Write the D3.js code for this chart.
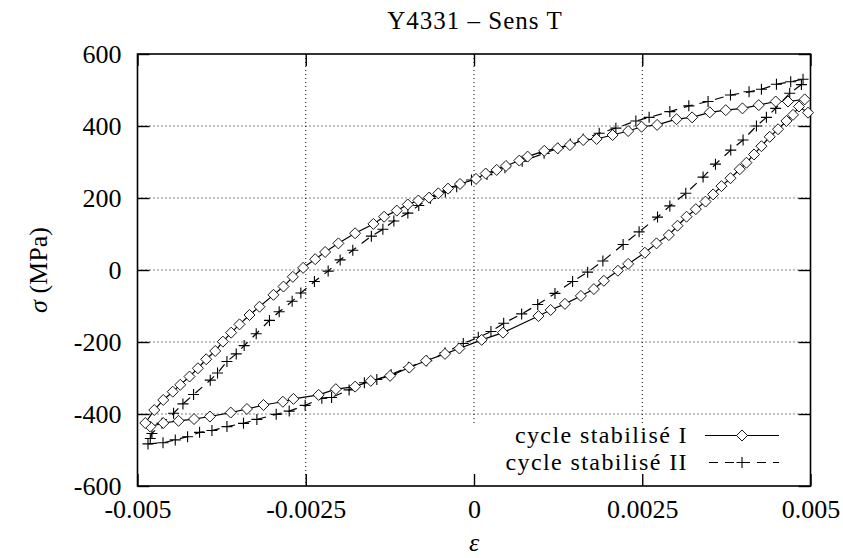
<!DOCTYPE html>
<html><head><meta charset="utf-8">
<script src="https://cdn.jsdelivr.net/npm/d3@7"></script>
<style>
body{margin:0;background:#fff;}
svg{display:block;}
text{font-family:"Liberation Serif","Times New Roman",serif;fill:#000;}
</style></head>
<body><svg id="c" width="843" height="558"></svg>
<script>
// ---- data ----
const title = "Y4331 – Sens T";
const xTicks = [-0.005, -0.0025, 0, 0.0025, 0.005];
const xTickLabels = ["-0.005", "-0.0025", "0", "0.0025", "0.005"];
const yTicks = [-600, -400, -200, 0, 200, 400, 600];
const yTickLabels = ["-600", "-400", "-200", "0", "200", "400", "600"];
const seriesNames = ["cycle stabilisé I", "cycle stabilisé II"];

// cycle stabilisé I (strain, stress MPa)
const strainI = [0.004963,0.004829,0.004740,0.004642,0.004518,0.004394,0.004271,0.004161,0.004048,0.003949,0.003811,0.003677,0.003553,0.003440,0.003296,0.003158,0.003024,0.002895,0.002712,0.002539,0.002291,0.002138,0.001930,0.001781,0.001588,0.001351,0.001139,0.000958,0.000431,0.000114,-0.000218,-0.000431,-0.000713,-0.000961,-0.001247,-0.001534,-0.001767,-0.002053,-0.002308,-0.002683,-0.002840,-0.003128,-0.003374,-0.003615,-0.003924,-0.004160,-0.004390,-0.004617,-0.004810,
 -0.004884,-0.004751,-0.004617,-0.004476,-0.004365,-0.004227,-0.004102,-0.003979,-0.003845,-0.003731,-0.003608,-0.003484,-0.003336,-0.003187,-0.002980,-0.002831,-0.002692,-0.002539,-0.002360,-0.002212,-0.002015,-0.001767,-0.001495,-0.001336,-0.001148,-0.000984,-0.000827,-0.000668,-0.000530,-0.000386,-0.000208,0.000030,0.000174,0.000337,0.000475,0.000673,0.000797,0.001044,0.001243,0.001425,0.001623,0.001822,0.002059,0.002291,0.002490,0.002721,0.003009,0.003241,0.003504,0.003741,0.003989,0.004231,0.004483,0.004666,0.004914];
const stressI = [437,454,431,414,391,370,344,321,298,280,255,233,210,190,169,148,123,97,74,48,17,-2,-30,-53,-72,-94,-111,-128,-174,-194,-218,-233,-252,-271,-294,-308,-324,-331,-347,-358,-366,-375,-386,-396,-407,-414,-419,-425,-435,
 -425,-389,-361,-338,-319,-296,-273,-248,-225,-199,-174,-151,-125,-102,-69,-46,-19,6,30,50,74,102,128,148,165,182,193,201,213,226,239,253,268,278,289,304,315,331,338,347,361,364,375,386,398,403,419,424,438,444,449,458,468,468,474];

// cycle stabilisé II (strain, stress MPa)
const strainII = [0.004865,0.004691,0.004483,0.004345,0.004197,0.003998,0.003815,0.003588,0.003404,0.003147,0.002910,0.002727,0.002453,0.002216,0.001915,0.001689,0.001465,0.001203,0.000947,0.000708,0.000441,0.000252,0.000064,-0.000159,-0.000431,-0.000702,-0.000975,-0.001232,-0.001444,-0.001629,-0.001856,-0.002116,-0.002261,-0.002509,-0.002746,-0.002939,-0.003226,-0.003425,-0.003671,-0.003894,-0.004078,-0.004256,-0.004439,-0.004621,-0.004844,
 -0.004810,-0.004785,-0.004636,-0.004464,-0.004325,-0.004167,-0.003919,-0.003811,-0.003671,-0.003533,-0.003415,-0.003236,-0.003039,-0.002895,-0.002702,-0.002573,-0.002371,-0.002167,-0.001989,-0.001801,-0.001525,-0.001354,-0.001191,-0.000983,-0.000821,-0.000646,-0.000426,-0.000257,-0.000037,0.000193,0.000460,0.000716,0.001042,0.001251,0.001433,0.001623,0.001860,0.002108,0.002405,0.002602,0.002910,0.003192,0.003478,0.003811,0.004087,0.004271,0.004494,0.004706,0.004889];
const stressII = [515,491,449,424,400,361,333,294,258,213,178,147,106,71,25,-6,-32,-65,-96,-122,-148,-171,-187,-204,-230,-252,-270,-290,-304,-313,-333,-354,-356,-376,-392,-401,-415,-426,-435,-446,-451,-463,-472,-480,-483,
 -468,-454,-426,-398,-372,-346,-306,-286,-254,-233,-210,-177,-140,-116,-87,-64,-32,-3,28,55,94,113,136,158,179,199,217,231,250,265,284,302,324,338,350,364,380,394,414,424,440,456,468,486,495,502,516,523,530];

// ---- layout ----
const L = 137.5, R = 810.5, T = 54, B = 486;
const svg = d3.select("#c");
const x = d3.scaleLinear().domain([-0.005, 0.005]).range([L, R]);
const y = d3.scaleLinear().domain([-600, 600]).range([B, T]);
const FS = 26;

// grid
const g = svg.append("g");
xTicks.slice(1, -1).forEach(v => {
  g.append("line").attr("x1", x(v)).attr("x2", x(v)).attr("y1", T).attr("y2", B)
   .attr("stroke", "#000").attr("stroke-width", 1).attr("stroke-dasharray", "1,3");
});
yTicks.slice(1, -1).forEach(v => {
  g.append("line").attr("x1", L).attr("x2", R).attr("y1", y(v)).attr("y2", y(v))
   .attr("stroke", "#000").attr("stroke-width", 1).attr("stroke-dasharray", "1,3");
});

// legend background
svg.append("rect").attr("x", 462).attr("y", 424).attr("width", R - 462).attr("height", B - 424).attr("fill", "#fff");

// axes
const fmtX = (d, i) => xTickLabels[i];
const fmtY = (d, i) => yTickLabels[i];
function styleAxis(sel) {
  sel.select(".domain").remove();
  sel.selectAll(".tick line").attr("stroke", "#000").attr("stroke-width", 1.4);
  sel.selectAll(".tick text").attr("font-family", "Liberation Serif, serif").attr("font-size", FS).attr("fill", "#000");
}
svg.append("g").attr("transform", `translate(0,${B})`)
  .call(d3.axisBottom(x).tickValues(xTicks).tickFormat(fmtX).tickSize(-12).tickPadding(14)).call(styleAxis);
svg.append("g").attr("transform", `translate(0,${T})`)
  .call(d3.axisTop(x).tickValues(xTicks).tickFormat("").tickSize(-12)).call(styleAxis);
svg.append("g").attr("transform", `translate(${L},0)`)
  .call(d3.axisLeft(y).tickValues(yTicks).tickFormat(fmtY).tickSize(-12).tickPadding(16)).call(styleAxis);
svg.append("g").attr("transform", `translate(${R},0)`)
  .call(d3.axisRight(y).tickValues(yTicks).tickFormat("").tickSize(-12)).call(styleAxis);

// frame
svg.append("rect").attr("x", L).attr("y", T).attr("width", R - L).attr("height", B - T)
  .attr("fill", "none").attr("stroke", "#000").attr("stroke-width", 1.6);

// series
const dataI = strainI.map((e, i) => [e, stressI[i]]);
const dataII = strainII.map((e, i) => [e, stressII[i]]);
const line = d3.line().x(d => x(d[0])).y(d => y(d[1]));
const diamond = (cx, cy, r) => `M${cx},${cy - r}L${cx + r},${cy}L${cx},${cy + r}L${cx - r},${cy}Z`;
const plus = (cx, cy, r) => `M${cx - r},${cy}H${cx + r}M${cx},${cy - r}V${cy + r}`;

svg.append("path").datum(dataII).attr("d", line).attr("fill", "none")
  .attr("stroke", "#000").attr("stroke-width", 1.2).attr("stroke-dasharray", "9,7");
svg.append("g").selectAll("path").data(dataII).join("path")
  .attr("d", d => plus(x(d[0]), y(d[1]), 5.5)).attr("stroke", "#000").attr("stroke-width", 1.1).attr("fill", "none");

svg.append("path").datum(dataI).attr("d", line).attr("fill", "none")
  .attr("stroke", "#000").attr("stroke-width", 1.2);
svg.append("g").selectAll("path").data(dataI).join("path")
  .attr("d", d => diamond(x(d[0]), y(d[1]), 5.5)).attr("stroke", "#000").attr("stroke-width", 0.9).attr("fill", "#fff");

// legend
const lg = svg.append("g");
const rows = [435.5, 462.5];
const LFS = 24;
lg.append("text").attr("x", 688).attr("y", rows[0]).attr("dy", "0.32em").attr("text-anchor", "end")
  .attr("font-size", LFS).attr("letter-spacing", "1.4px").text(seriesNames[0]);
lg.append("text").attr("x", 688).attr("y", rows[1]).attr("dy", "0.32em").attr("text-anchor", "end")
  .attr("font-size", LFS).attr("letter-spacing", "1.4px").text(seriesNames[1]);
lg.append("line").attr("x1", 705).attr("x2", 779).attr("y1", rows[0]).attr("y2", rows[0]).attr("stroke", "#000").attr("stroke-width", 1.2);
lg.append("path").attr("d", diamond(742, rows[0], 5.5)).attr("stroke", "#000").attr("stroke-width", 0.9).attr("fill", "#fff");
lg.append("line").attr("x1", 705).attr("x2", 779).attr("y1", rows[1]).attr("y2", rows[1]).attr("stroke", "#000").attr("stroke-width", 1.2).attr("stroke-dasharray", "9,7").attr("stroke-dashoffset", -4);
lg.append("path").attr("d", plus(742, rows[1], 5.5)).attr("stroke", "#000").attr("stroke-width", 1.1);

// titles
svg.append("text").attr("x", 475).attr("y", 29).attr("text-anchor", "middle").attr("font-size", 25)
  .attr("letter-spacing", "1px").text(title);
svg.append("text").attr("x", 474).attr("y", 551).attr("text-anchor", "middle").attr("font-size", FS)
  .attr("font-style", "italic").text("ε");
const yl = svg.append("text").attr("transform", "translate(47,270) rotate(-90)").attr("text-anchor", "middle").attr("font-size", FS);
yl.append("tspan").attr("font-style", "italic").text("σ");
yl.append("tspan").text(" (MPa)");
</script>
</body></html>
